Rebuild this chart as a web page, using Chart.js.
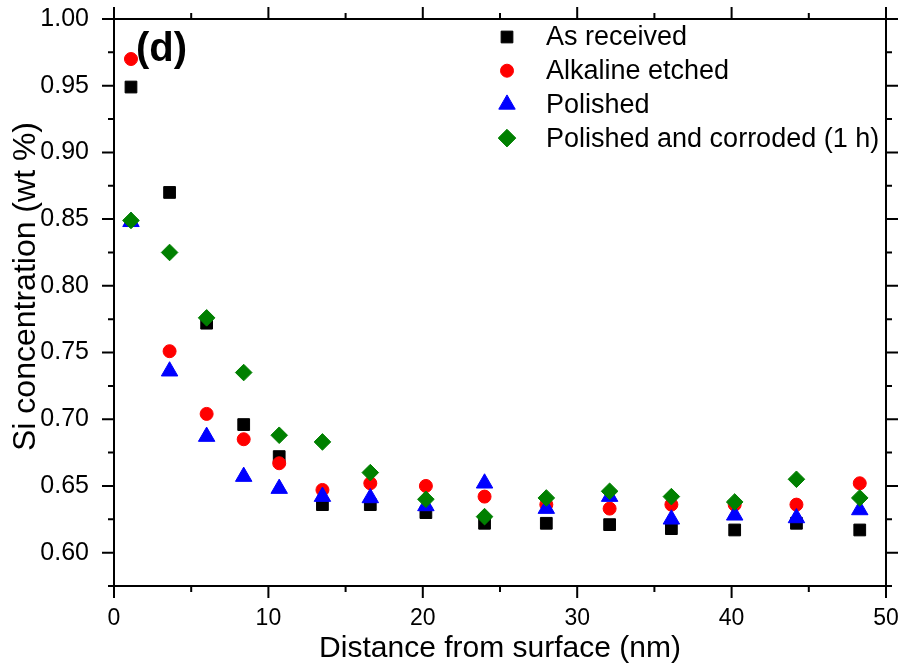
<!DOCTYPE html>
<html>
<head>
<meta charset="utf-8">
<script src="https://cdn.jsdelivr.net/npm/chart.js@4/dist/chart.umd.min.js"></script>
<style>
  html, body { margin: 0; padding: 0; background: #fff; }
  #wrap { width: 903px; height: 669px; }
</style>
</head>
<body>
<div id="wrap"><canvas id="profile"></canvas></div>
<script>
// depth profile: distance from surface (nm) and Si content (wt %)
var distance = [1.1, 3.6, 6.0, 8.4, 10.7, 13.5, 16.6, 20.2, 24.0, 28.0, 32.1, 36.1, 40.2, 44.2, 48.3];
var asReceived = [0.949, 0.870, 0.772, 0.696, 0.672, 0.636, 0.636, 0.630, 0.622, 0.622, 0.621, 0.618, 0.617, 0.622, 0.617];
var alkalineEtched = [0.970, 0.751, 0.704, 0.685, 0.667, 0.647, 0.652, 0.650, 0.642, 0.636, 0.633, 0.636, 0.636, 0.636, 0.652];
var polished = [0.848, 0.736, 0.687, 0.657, 0.648, 0.642, 0.641, 0.635, 0.652, 0.633, 0.642, 0.625, 0.628, 0.626, 0.632];
var corroded = [0.849, 0.825, 0.776, 0.735, 0.688, 0.683, 0.660, 0.640, 0.627, 0.641, 0.646, 0.642, 0.638, 0.655, 0.641];

var seriesNames = ['As received', 'Alkaline etched', 'Polished', 'Polished and corroded (1 h)'];

var xTicks = [0, 10, 20, 30, 40, 50];
var xMinor = [5, 15, 25, 35, 45];
var yTicks = [0.60, 0.65, 0.70, 0.75, 0.80, 0.85, 0.90, 0.95, 1.00];
var yMinor = [0.575, 0.625, 0.675, 0.725, 0.775, 0.825, 0.875, 0.925, 0.975];

function toPoints(ys) {
    return distance.map(function (x, i) { return { x: x, y: ys[i] }; });
}

var FONT = '"Liberation Sans", Arial, sans-serif';

// boxed frame with outward major/minor ticks on all four sides
var framePlugin = {
    id: 'frame',
    afterDraw: function (chart) {
        var ctx = chart.ctx, a = chart.chartArea;
        var xs = chart.scales.x, ys = chart.scales.y;
        ctx.save();
        ctx.strokeStyle = '#000';
        ctx.lineWidth = 2;
        ctx.strokeRect(a.left, a.top, a.right - a.left, a.bottom - a.top);
        ctx.beginPath();
        function xt(v, len) {
            var px = xs.getPixelForValue(v);
            ctx.moveTo(px, a.bottom); ctx.lineTo(px, a.bottom + len);
            ctx.moveTo(px, a.top); ctx.lineTo(px, a.top - len);
        }
        function yt(v, len) {
            var py = ys.getPixelForValue(v);
            ctx.moveTo(a.left, py); ctx.lineTo(a.left - len, py);
            ctx.moveTo(a.right, py); ctx.lineTo(a.right + len, py);
        }
        xTicks.forEach(function (v) { xt(v, 12); });
        xMinor.forEach(function (v) { xt(v, 6); });
        yTicks.forEach(function (v) { yt(v, 12); });
        yMinor.forEach(function (v) { yt(v, 6); });
        ctx.stroke();

        ctx.fillStyle = '#000';
        ctx.textBaseline = 'middle';

        // y axis title, sitting a little above the middle of the axis
        ctx.save();
        ctx.font = '32px ' + FONT;
        ctx.textAlign = 'center';
        ctx.translate(26, ys.getPixelForValue(0.7995));
        ctx.rotate(-Math.PI / 2);
        ctx.fillText('Si concentration (wt %)', 0, 0);
        ctx.restore();

        // panel tag
        ctx.font = 'bold 40px ' + FONT;
        ctx.textAlign = 'left';
        ctx.fillText('(d)', a.left + 22, a.top + 31);
        ctx.restore();
    }
};

// legend in the upper right of the plot
var legendPlugin = {
    id: 'innerLegend',
    afterDraw: function (chart) {
        var ctx = chart.ctx, a = chart.chartArea;
        ctx.save();
        ctx.font = '27px ' + FONT;
        ctx.textBaseline = 'middle';
        ctx.textAlign = 'left';
        chart.data.datasets.forEach(function (ds, i) {
            var y = a.top + 18 + i * 33.7;
            var x = a.left + 393;
            ctx.fillStyle = ds.backgroundColor;
            ctx.strokeStyle = ds.borderColor;
            ctx.lineWidth = 1;
            Chart.helpers.drawPoint(ctx, {
                pointStyle: ds.pointStyle,
                radius: ds.legendRadius,
                rotation: 0,
                borderWidth: 1
            }, x, y);
            ctx.fillStyle = '#000';
            ctx.fillText(ds.label, a.left + 432, y + 1);
        });
        ctx.restore();
    }
};

var ctx = document.getElementById('profile').getContext('2d');
var chart = new Chart(ctx, {
    type: 'scatter',
    data: {
        datasets: [{
            label: seriesNames[0],
            data: toPoints(asReceived),
            pointStyle: 'rect',
            pointRadius: 8.3,
            legendRadius: 8.3,
            backgroundColor: '#000000',
            borderColor: '#000000',
            borderWidth: 1,
            order: 3
        }, {
            label: seriesNames[1],
            data: toPoints(alkalineEtched),
            pointStyle: 'circle',
            pointRadius: 6.5,
            legendRadius: 6.5,
            backgroundColor: '#ff0000',
            borderColor: '#ff0000',
            borderWidth: 1,
            order: 2
        }, {
            label: seriesNames[2],
            data: toPoints(polished),
            pointStyle: 'triangle',
            pointRadius: 9.5,
            legendRadius: 9.5,
            backgroundColor: '#0000ff',
            borderColor: '#0000ff',
            borderWidth: 1,
            order: 1
        }, {
            label: seriesNames[3],
            data: toPoints(corroded),
            pointStyle: 'rectRot',
            pointRadius: 8.3,
            legendRadius: 8.8,
            backgroundColor: '#008000',
            borderColor: '#008000',
            borderWidth: 1,
            order: 0
        }]
    },
    options: {
        responsive: true,
        maintainAspectRatio: false,
        animation: false,
        layout: { padding: { top: 19, right: 17, left: 0, bottom: 0 } },
        plugins: {
            legend: { display: false },
            tooltip: { enabled: false }
        },
        scales: {
            x: {
                type: 'linear',
                min: 0,
                max: 50,
                afterBuildTicks: function (s) { s.ticks = xTicks.map(function (v) { return { value: v }; }); },
                afterFit: function (s) {
                    s.height = 83;
                    s.paddingLeft = 0;
                    s.paddingRight = 0;
                },
                grid: { display: false, drawTicks: false },
                border: { display: false },
                ticks: {
                    color: '#000',
                    padding: 19,
                    maxRotation: 0,
                    font: { family: FONT, size: 23 }
                },
                title: {
                    display: true,
                    text: 'Distance from surface (nm)',
                    color: '#000',
                    font: { family: FONT, size: 30 },
                    padding: { top: 0, bottom: 2 }
                }
            },
            y: {
                type: 'linear',
                min: 0.575,
                max: 1.0,
                afterBuildTicks: function (s) { s.ticks = yTicks.map(function (v) { return { value: v }; }); },
                afterFit: function (s) {
                    s.width = 114;
                    s.paddingTop = 0;
                    s.paddingBottom = 0;
                },
                grid: { display: false, drawTicks: false },
                border: { display: false },
                ticks: {
                    color: '#000',
                    padding: 25,
                    font: { family: FONT, size: 25 },
                    callback: function (v) { return v.toFixed(2); }
                },
                title: { display: false }
            }
        }
    },
    plugins: [framePlugin, legendPlugin]
});
</script>
</body>
</html>
